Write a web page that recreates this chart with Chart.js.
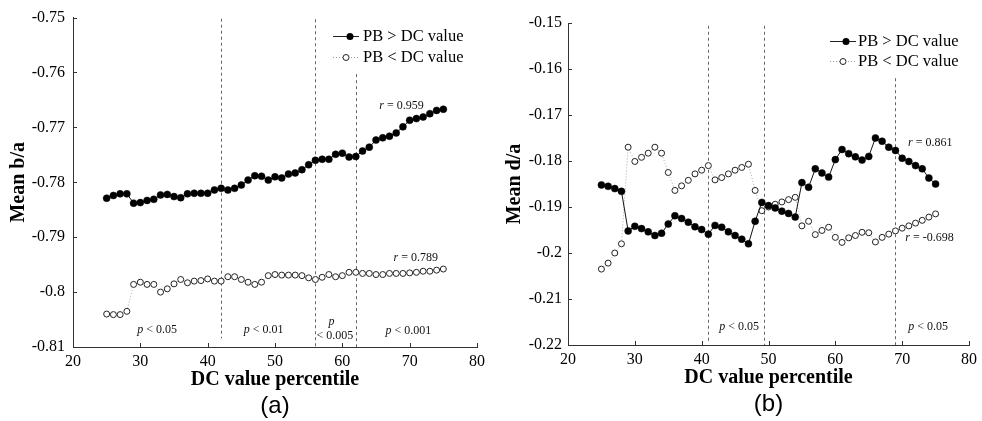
<!DOCTYPE html>
<html><head><meta charset="utf-8">
<script src="https://cdn.jsdelivr.net/npm/chart.js@4/dist/chart.umd.min.js"></script>
<style>
html,body{margin:0;padding:0;background:#fff;}
#wrap{position:relative;width:982px;height:421px;overflow:hidden;background:#fff;}
#wa{position:absolute;left:0;top:0;width:490px;height:421px;}
#wb{position:absolute;left:490px;top:0;width:492px;height:421px;}
</style></head><body>
<div id="wrap">
<div id="wa"><canvas id="ca" width="490" height="421"></canvas></div>
<div id="wb"><canvas id="cb" width="492" height="421"></canvas></div>
</div>
<script>
// ---------- data ----------
const percentiles = [25,26,27,28,29,30,31,32,33,34,35,36,37,38,39,40,41,42,43,44,45,46,47,48,49,50,51,52,53,54,55,56,57,58,59,60,61,62,63,64,65,66,67,68,69,70,71,72,73,74,75];
const xTicks = [20,30,40,50,60,70,80];
const xTickLabels = ['20','30','40','50','60','70','80'];
const yTicksA = [-0.81,-0.8,-0.79,-0.78,-0.77,-0.76,-0.75];
const yTickLabelsA = ['-0.81','-0.8','-0.79','-0.78','-0.77','-0.76','-0.75'];
const yTicksB = [-0.22,-0.21,-0.2,-0.19,-0.18,-0.17,-0.16,-0.15];
const yTickLabelsB = ['-0.22','-0.21','-0.2','-0.19','-0.18','-0.17','-0.16','-0.15'];
const seriesNames = ['PB > DC value','PB < DC value'];

// (a) Mean b/a
const aAbove = [-0.7829,-0.7824,-0.7821,-0.7821,-0.7838,-0.7837,-0.7833,-0.7831,-0.7823,-0.7822,-0.7826,-0.7828,-0.7821,-0.7820,-0.7820,-0.7820,-0.7814,-0.7811,-0.7814,-0.7811,-0.7805,-0.7796,-0.7788,-0.7789,-0.7796,-0.7790,-0.7792,-0.7785,-0.7783,-0.7777,-0.7768,-0.7760,-0.7758,-0.7758,-0.7749,-0.7747,-0.7754,-0.7753,-0.7743,-0.7736,-0.7723,-0.7719,-0.7716,-0.7710,-0.7699,-0.7687,-0.7684,-0.7681,-0.7675,-0.7669,-0.7667];
const aBelow = [-0.8040,-0.8041,-0.8041,-0.8035,-0.7986,-0.7982,-0.7986,-0.7986,-0.8000,-0.7994,-0.7985,-0.7977,-0.7983,-0.7980,-0.7979,-0.7976,-0.7980,-0.7980,-0.7972,-0.7972,-0.7977,-0.7982,-0.7986,-0.7982,-0.7970,-0.7968,-0.7969,-0.7969,-0.7969,-0.7970,-0.7974,-0.7977,-0.7973,-0.7968,-0.7972,-0.7970,-0.7964,-0.7964,-0.7966,-0.7966,-0.7968,-0.7968,-0.7966,-0.7966,-0.7966,-0.7965,-0.7964,-0.7962,-0.7962,-0.7960,-0.7958];

// (b) Mean d/a
const bAbove = [-0.1852,-0.1855,-0.1860,-0.1866,-0.1952,-0.1942,-0.1947,-0.1954,-0.1962,-0.1957,-0.1937,-0.1919,-0.1925,-0.1933,-0.1943,-0.1949,-0.1959,-0.1940,-0.1944,-0.1954,-0.1962,-0.1970,-0.1980,-0.1931,-0.1890,-0.1897,-0.1902,-0.1909,-0.1914,-0.1922,-0.1847,-0.1857,-0.1817,-0.1826,-0.1835,-0.1797,-0.1775,-0.1784,-0.1791,-0.1798,-0.1790,-0.1750,-0.1757,-0.1770,-0.1777,-0.1794,-0.1801,-0.1810,-0.1817,-0.1837,-0.1850];
const bBelow = [-0.2035,-0.2022,-0.2000,-0.1980,-0.1770,-0.1801,-0.1792,-0.1783,-0.1770,-0.1783,-0.1825,-0.1864,-0.1854,-0.1842,-0.1828,-0.1820,-0.1810,-0.1841,-0.1836,-0.1828,-0.1820,-0.1814,-0.1807,-0.1864,-0.1908,-0.1900,-0.1894,-0.1889,-0.1884,-0.1879,-0.1941,-0.1931,-0.1960,-0.1951,-0.1944,-0.1966,-0.1977,-0.1967,-0.1962,-0.1955,-0.1956,-0.1976,-0.1966,-0.1959,-0.1952,-0.1946,-0.1941,-0.1935,-0.1929,-0.1922,-0.1915];

// significance boundaries (x in percentile)
const sigLinesA = [42,56,62];
const sigLinesB = [41,49.3,69];

// ---------- drawing ----------
const SERIF = '"Liberation Serif","Times New Roman",serif';
const SANS = '"Liberation Sans",Arial,sans-serif';

function toXY(ys){ return percentiles.map((p,i)=>({x:p,y:ys[i]})); }

function drawNote(ctx, text, cx, cy){
  let first = '', rest = text;
  if (/^[rp]( |$)/.test(text)) { first = text[0]; rest = text.slice(1); }
  ctx.font = 'italic 12px ' + SERIF;
  const w1 = first ? ctx.measureText(first).width : 0;
  ctx.font = '12px ' + SERIF;
  const w2 = ctx.measureText(rest).width;
  let x0 = cx - (w1 + w2)/2;
  ctx.textBaseline = 'middle'; ctx.textAlign = 'left'; ctx.fillStyle = '#111';
  if (first){ ctx.font = 'italic 12px ' + SERIF; ctx.fillText(first, x0, cy); }
  ctx.font = '12px ' + SERIF; ctx.fillText(rest, x0 + w1, cy);
}

function makePlugin(cfg){
  return {
    id: 'extras',
    beforeDatasetsDraw(chart){
      const {ctx, scales:{x, y}} = chart;
      ctx.save();
      ctx.strokeStyle = '#666'; ctx.lineWidth = 1; ctx.setLineDash([3,3]);
      cfg.vlines.forEach(v => {
        const px = Math.round(x.getPixelForValue(v.x)) + 0.5;
        ctx.beginPath();
        ctx.moveTo(px, y.getPixelForValue(v.from));
        ctx.lineTo(px, y.getPixelForValue(v.to));
        ctx.stroke();
      });
      ctx.setLineDash([]);
      ctx.strokeStyle = '#333';
      x.ticks.forEach(t => {
        const px = Math.round(x.getPixelForValue(t.value)) + 0.5;
        ctx.beginPath(); ctx.moveTo(px, y.bottom); ctx.lineTo(px, y.bottom - 4); ctx.stroke();
      });
      y.ticks.forEach(t => {
        const py = Math.round(y.getPixelForValue(t.value)) + 0.5;
        ctx.beginPath(); ctx.moveTo(x.left, py); ctx.lineTo(x.left + 4, py); ctx.stroke();
      });
      ctx.restore();
    },
    afterDraw(chart){
      const {ctx, scales:{x, y}, chartArea} = chart;
      ctx.save();
      cfg.notes.forEach(n => drawNote(ctx, n.t, x.getPixelForValue(n.x), y.getPixelForValue(n.y)));
      // legend
      const L = cfg.legend;
      ctx.lineWidth = 1;
      ctx.strokeStyle = '#222'; ctx.beginPath(); ctx.moveTo(L.x0, L.y1 + 0.5); ctx.lineTo(L.x1, L.y1 + 0.5); ctx.stroke();
      ctx.fillStyle = '#000'; ctx.beginPath(); ctx.arc(L.m1, L.y1 + 0.5, 3.5, 0, Math.PI*2); ctx.fill();
      ctx.strokeStyle = '#999'; ctx.setLineDash([1,2]); ctx.beginPath(); ctx.moveTo(L.x0, L.y2 + 0.5); ctx.lineTo(L.x1, L.y2 + 0.5); ctx.stroke();
      ctx.setLineDash([]);
      ctx.fillStyle = '#fff'; ctx.strokeStyle = '#222';
      ctx.beginPath(); ctx.arc(L.m2, L.y2 + 0.5, 3, 0, Math.PI*2); ctx.fill(); ctx.stroke();
      ctx.fillStyle = '#000'; ctx.font = '16.5px ' + SERIF; ctx.textBaseline = 'middle'; ctx.textAlign = 'left';
      ctx.fillText(seriesNames[0], L.tx, L.y1 + 1);
      ctx.fillText(seriesNames[1], L.tx, L.y2 + 1);
      // caption
      ctx.font = '24px ' + SANS; ctx.textAlign = 'center'; ctx.textBaseline = 'middle';
      ctx.fillText(cfg.caption, (chartArea.left + chartArea.right)/2, cfg.captionY);
      ctx.restore();
    }
  };
}

function makeChart(canvasId, cfg){
  const tickLookup = (vals, labels) => v => {
    const i = vals.findIndex(t => Math.abs(t - v) < 1e-9);
    return i >= 0 ? labels[i] : '';
  };
  return new Chart(document.getElementById(canvasId), {
    type: 'line',
    data: {
      datasets: [
        { label: seriesNames[0], data: toXY(cfg.above), borderColor: '#111', borderWidth: 1,
          pointRadius: 3.5, pointBackgroundColor: '#000', pointBorderColor: '#000', pointBorderWidth: 0.5,
          tension: 0, fill: false },
        { label: seriesNames[1], data: toXY(cfg.below), borderColor: '#aaa', borderWidth: 1, borderDash: [1,2],
          pointRadius: 3, pointBackgroundColor: '#fff', pointBorderColor: '#222', pointBorderWidth: 1,
          pointStyle: 'circle', tension: 0, fill: false }
      ]
    },
    options: {
      responsive: false, animation: false, devicePixelRatio: 1,
      layout: { padding: { left: 0, right: cfg.padRight, top: cfg.padTop, bottom: 0 } },
      plugins: { legend: { display: false }, tooltip: { enabled: false } },
      scales: {
        x: {
          type: 'linear', min: 20, max: 80,
          afterBuildTicks: s => { s.ticks = xTicks.map(v => ({value: v})); },
          afterFit: s => { s.height = cfg.xHeight; },
          grid: { display: false, drawTicks: false },
          border: { display: true, color: '#333', width: 1 },
          ticks: { color: '#000', font: { family: SERIF, size: 16 }, padding: cfg.xTickPad, maxRotation: 0,
                   callback: tickLookup(xTicks, xTickLabels) },
          title: { display: true, text: 'DC value percentile', color: '#000',
                   font: { family: SERIF, size: 20, weight: 'bold' }, padding: { top: 0, bottom: cfg.xTitlePad } }
        },
        y: {
          type: 'linear', min: cfg.yTicks[0], max: cfg.yTicks[cfg.yTicks.length-1],
          afterBuildTicks: s => { s.ticks = cfg.yTicks.map(v => ({value: v})); },
          afterFit: s => { s.width = cfg.yWidth; },
          grid: { display: false, drawTicks: false },
          border: { display: true, color: '#333', width: 1 },
          ticks: { color: '#000', font: { family: SERIF, size: 16 }, padding: cfg.yTickPad,
                   callback: tickLookup(cfg.yTicks, cfg.yLabels) },
          title: { display: true, text: cfg.yTitle, color: '#000',
                   font: { family: SERIF, size: 20, weight: 'bold' }, padding: { top: cfg.yTitlePad, bottom: 0 } }
        }
      }
    },
    plugins: [makePlugin(cfg)]
  });
}

makeChart('ca', {
  above: aAbove, below: aBelow, yTicks: yTicksA, yLabels: yTickLabelsA, yTitle: 'Mean b/a',
  padRight: 10, padTop: 16, xHeight: 74, yWidth: 73, xTickPad: 5, yTickPad: 8, xTitlePad: 29, yTitlePad: 7,
  vlines: [
    { x: sigLinesA[0], from: -0.7502, to: -0.8084 },
    { x: sigLinesA[1], from: -0.7503, to: -0.8100 },
    { x: sigLinesA[2], from: -0.7603, to: -0.8100 }
  ],
  notes: [
    { t: 'r = 0.959', x: 68.8, y: -0.7660 },
    { t: 'r = 0.789', x: 70.9, y: -0.7937 },
    { t: 'p < 0.05', x: 32.5, y: -0.8069 },
    { t: 'p < 0.01', x: 48.3, y: -0.8069 },
    { t: 'p', x: 58.4, y: -0.8055 },
    { t: '< 0.005', x: 58.9, y: -0.8080 },
    { t: 'p < 0.001', x: 69.8, y: -0.8071 }
  ],
  legend: { x0: 333, x1: 359, m1: 350, m2: 346, tx: 363, y1: 36, y2: 57 },
  caption: '(a)', captionY: 406
});

makeChart('cb', {
  above: bAbove, below: bBelow, yTicks: yTicksB, yLabels: yTickLabelsB, yTitle: 'Mean d/a',
  padRight: 9, padTop: 23, xHeight: 76, yWidth: 78, xTickPad: 5, yTickPad: 6, xTitlePad: 31, yTitlePad: 13,
  vlines: [
    { x: sigLinesB[0], from: -0.1506, to: -0.2196 },
    { x: sigLinesB[1], from: -0.1506, to: -0.2200 },
    { x: sigLinesB[2], from: -0.1620, to: -0.2200 }
  ],
  notes: [
    { t: 'r = 0.861', x: 74.2, y: -0.1761 },
    { t: 'r = -0.698', x: 74.1, y: -0.1967 },
    { t: 'p < 0.05', x: 45.6, y: -0.2161 },
    { t: 'p < 0.05', x: 73.9, y: -0.2161 }
  ],
  legend: { x0: 340, x1: 366, m1: 356, m2: 353, tx: 368, y1: 41, y2: 61 },
  caption: '(b)', captionY: 404
});
</script>
</body></html>
